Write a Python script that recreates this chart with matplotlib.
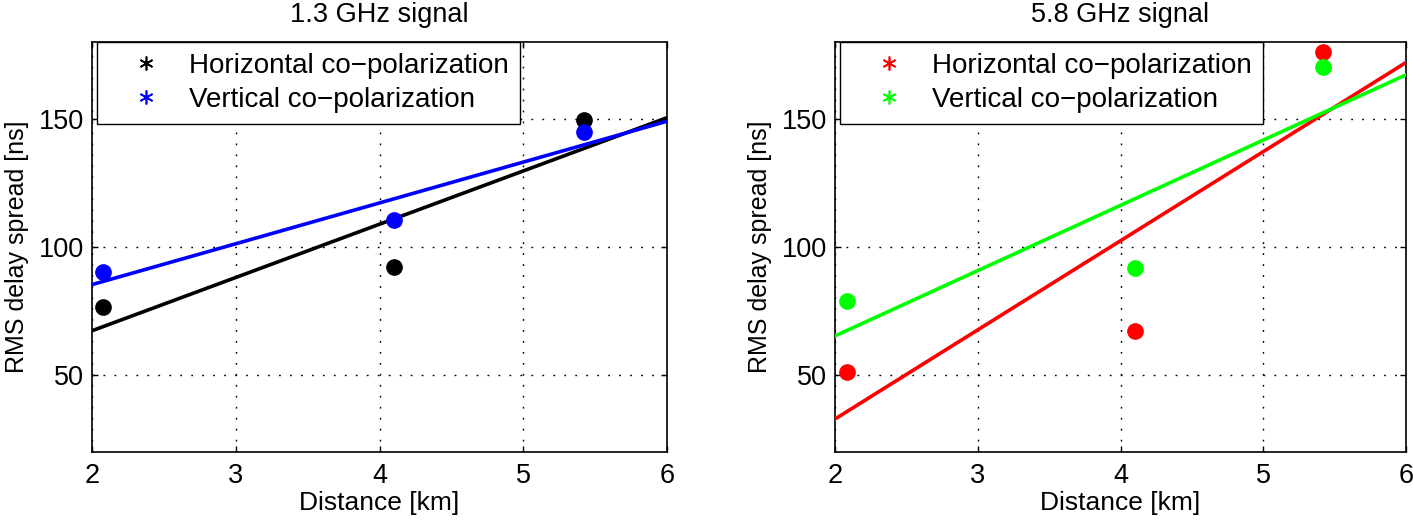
import matplotlib
matplotlib.use("Agg")
from matplotlib import pyplot as plt
from matplotlib.lines import Line2D

plt.rcParams['font.family'] = ['Liberation Sans', 'DejaVu Sans']

# measured distances [km]
dist = [2.08, 4.10, 5.42]

# 1.3 GHz RMS delay spread [ns]
h13 = [76.5, 92.0, 149.5]
v13 = [90.4, 110.4, 144.8]
# 5.8 GHz RMS delay spread [ns]
h58 = [51.2, 67.3, 175.9]
v58 = [78.9, 91.6, 170.3]

# fitted lines, read at x = 2 and x = 6
fit_x = [2, 6]
fit_h13 = [67.3, 150.4]
fit_v13 = [85.3, 149.0]
fit_h58 = [32.9, 171.9]
fit_v58 = [65.3, 167.1]

titles = ["1.3 GHz signal", "5.8 GHz signal"]
labels = ["Horizontal co\u2212polarization", "Vertical co\u2212polarization"]
xticks = [2, 3, 4, 5, 6]
yticks = [50, 100, 150]

panels = [
    (h13, v13, fit_h13, fit_v13, ("black", "blue")),
    (h58, v58, fit_h58, fit_v58, ("red", "#00ff00")),
]

fig = plt.figure(figsize=(14.13, 5.22), dpi=100)
positions = [[0.0651, 0.134, 0.407, 0.786], [0.591, 0.134, 0.404, 0.786]]

for pos, title, (h, v, fh, fv, colors) in zip(positions, titles, panels):
    ax = fig.add_axes(pos)
    ax.plot(fit_x, fh, color=colors[0], lw=2.6, zorder=3)
    ax.plot(fit_x, fv, color=colors[1], lw=2.6, zorder=3)
    ax.plot(dist, h, 'o', color=colors[0], ms=11, zorder=4)
    ax.plot(dist, v, 'o', color=colors[1], ms=11, zorder=4)
    ax.set_xlim(2, 6)
    ax.set_ylim(20, 180)
    ax.set_xticks(xticks)
    ax.set_yticks(yticks)
    ax.grid(True, color="black", linestyle=(0, (1.3, 6.6)), linewidth=1.0)
    ax.tick_params(direction="in", length=4, width=1, labelsize=19.5,
                   top=True, right=True)
    ax.tick_params(axis="x", pad=8)
    ax.tick_params(axis="y", pad=6)
    for s in ax.spines.values():
        s.set_linewidth(1.2)
    ax.set_title(title, fontsize=19.5, pad=14)
    ax.set_xlabel("Distance [km]", fontsize=19, labelpad=1)
    ax.set_ylabel("RMS delay spread [ns]", fontsize=18, labelpad=7)

    handles = [Line2D([], [], linestyle="none", marker=(6, 2, 0), color=c,
                      markersize=10, markeredgewidth=1.2) for c in colors]
    leg = ax.legend(handles, labels, loc="upper left", fontsize=20,
                    frameon=True, fancybox=False, framealpha=1,
                    edgecolor="black", borderaxespad=0,
                    bbox_to_anchor=(0.009, 1.0), handlelength=2.7,
                    handletextpad=0.2, borderpad=0.4, labelspacing=0.3)
    leg.get_frame().set_linewidth(1.0)

fig.savefig("out.png", dpi=100)
